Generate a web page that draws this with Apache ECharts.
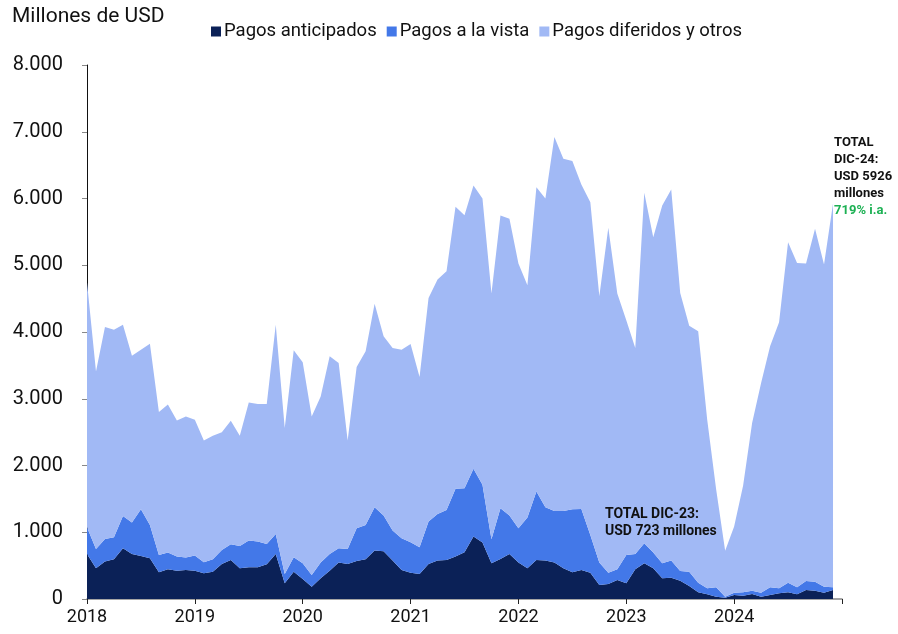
<!DOCTYPE html>
<html>
<head>
<meta charset="utf-8">
<script src="https://cdn.jsdelivr.net/npm/echarts@6/dist/echarts.min.js"></script>
<style>
  html, body { margin: 0; padding: 0; background: #fff; }
  #chart { width: 898px; height: 634px; }
</style>
</head>
<body>
<div id="chart"></div>
<script>
// meses ene-2018 .. dic-2024 (+ borde ene-2025 para el último tick)
const YEARS = ["2018", "2019", "2020", "2021", "2022", "2023", "2024", "2025"];
const months = [];
YEARS.forEach((y, i) => {
  const n = i === YEARS.length - 1 ? 1 : 12;
  for (let m = 1; m <= n; m++) months.push(y + "-" + String(m).padStart(2, "0"));
});

// Pagos anticipados (millones USD)
const anticipados = [
  675, 460, 560, 595, 760, 675, 645, 610, 400, 445, 425, 435,
  425, 385, 410, 525, 585, 460, 475, 475, 520, 675, 235, 410,
  300, 185, 310, 425, 545, 525, 570, 595, 725, 715, 575, 435,
  395, 375, 525, 575, 585, 635, 700, 935, 845, 535, 600, 675,
  545, 460, 585, 575, 545, 460, 400, 435, 395, 210, 225, 285,
  235, 445, 535, 460, 310, 320, 275, 195, 100, 70, 35, 20,
  60, 50, 75, 35, 60, 85, 100, 70, 135, 125, 95, 135
];

// Pagos a la vista
const aLaVista = [
  400, 290, 340, 330, 485, 470, 700, 500, 260, 250, 210, 185,
  225, 165, 185, 210, 235, 335, 400, 385, 305, 300, 140, 215,
  235, 175, 235, 250, 215, 225, 490, 515, 650, 535, 450, 475,
  455, 400, 635, 700, 750, 1015, 960, 1015, 865, 360, 760, 575,
  515, 760, 1025, 800, 775, 860, 945, 915, 565, 335, 170, 160,
  425, 230, 300, 235, 225, 255, 145, 215, 145, 90, 140, 15,
  35, 50, 50, 60, 115, 75, 145, 105, 135, 135, 90, 40
];

// Total (para derivar pagos diferidos y otros)
const total = [
  4745, 3410, 4075, 4035, 4110, 3645, 3735, 3825, 2800, 2915, 2675, 2735,
  2685, 2375, 2445, 2500, 2670, 2445, 2945, 2920, 2920, 4110, 2560, 3725,
  3545, 2735, 3035, 3635, 3535, 2375, 3475, 3710, 4425, 3935, 3760, 3735,
  3820, 3325, 4510, 4785, 4910, 5875, 5750, 6195, 6000, 4575, 5745, 5695,
  5025, 4700, 6170, 6000, 6920, 6595, 6560, 6210, 5945, 4535, 5560, 4575,
  4175, 3760, 6085, 5420, 5895, 6135, 4585, 4095, 4010, 2690, 1640, 723,
  1085, 1700, 2635, 3235, 3785, 4145, 5345, 5035, 5025, 5545, 5010, 5926
];

const diferidos = total.map((t, i) => t - anticipados[i] - aLaVista[i]);

const COLOR_ANT = "#0b2157";
const COLOR_VISTA = "#4378e8";
const COLOR_DIF = "#a1b9f5";

const chart = echarts.init(document.getElementById("chart"), null, { renderer: "canvas" });

const FONT = "Roboto";

function areaSeries(name, data, color) {
  return {
    name: name,
    type: "line",
    stack: "total",
    data: data,
    showSymbol: false,
    symbol: "none",
    lineStyle: { width: 0 },
    itemStyle: { color: color },
    areaStyle: { color: color, opacity: 1 },
  };
}

const option = {
  animation: false,
  textStyle: { fontFamily: FONT },
  legend: {
    data: ["Pagos anticipados", "Pagos a la vista", "Pagos diferidos y otros"],
    top: 17,
    left: 206,
    itemWidth: 10,
    itemHeight: 10,
    itemGap: 10,
    icon: "rect",
    textStyle: { fontFamily: FONT, fontSize: 18.5, color: "#111", padding: [0, 0, 0, -2] },
  },
  graphic: [
    {
      type: "text",
      left: 12,
      top: 6,
      z: 100,
      style: { text: "Millones de USD", font: "21px Roboto", fill: "#111" },
    },
    {
      type: "text",
      left: 605,
      top: 506,
      z: 100,
      style: {
        text: "TOTAL DIC-23:\nUSD 723 millones",
        font: "bold 14px Roboto",
        fill: "#111",
        lineHeight: 17,
      },
    },
    {
      type: "text",
      left: 834,
      top: 136,
      z: 100,
      style: {
        text: "{b|TOTAL}\n{b|DIC-24:}\n{b|USD 5926}\n{b|millones}\n{g|719% i.a.}",
        rich: {
          b: { font: "bold 13px Roboto", fill: "#111", lineHeight: 17 },
          g: { font: "bold 13px Roboto", fill: "#1db154", lineHeight: 17 },
        },
      },
    },
  ],
  grid: { left: 87, right: 56, top: 65, bottom: 35, containLabel: false },
  xAxis: {
    type: "category",
    data: months,
    boundaryGap: false,
    axisLine: { show: true, lineStyle: { color: "#888", width: 1.5 } },
    axisTick: {
      show: true,
      length: 5,
      interval: (idx) => idx % 12 === 0,
      lineStyle: { color: "#222" },
    },
    axisLabel: {
      interval: (idx) => idx % 12 === 0,
      formatter: (val) => (val.endsWith("-01") && !val.startsWith("2025") ? val.slice(0, 4) : ""),
      fontFamily: FONT,
      fontSize: 18,
      color: "#111",
      margin: 9,
    },
    splitLine: { show: false },
  },
  yAxis: {
    type: "value",
    min: 0,
    max: 8000,
    interval: 1000,
    axisLine: { show: true, lineStyle: { color: "#111", width: 1 } },
    axisTick: { show: true, length: 5, lineStyle: { color: "#888" } },
    axisLabel: {
      fontFamily: FONT,
      fontSize: 20,
      color: "#111",
      margin: 24,
      formatter: (v) => (v === 0 ? "0" : String(v).replace(/\B(?=(\d{3})+(?!\d))/g, ".")),
    },
    splitLine: { show: false },
  },
  series: [
    areaSeries("Pagos anticipados", anticipados, COLOR_ANT),
    areaSeries("Pagos a la vista", aLaVista, COLOR_VISTA),
    areaSeries("Pagos diferidos y otros", diferidos, COLOR_DIF),
  ],
};

chart.setOption(option);
</script>
</body>
</html>
